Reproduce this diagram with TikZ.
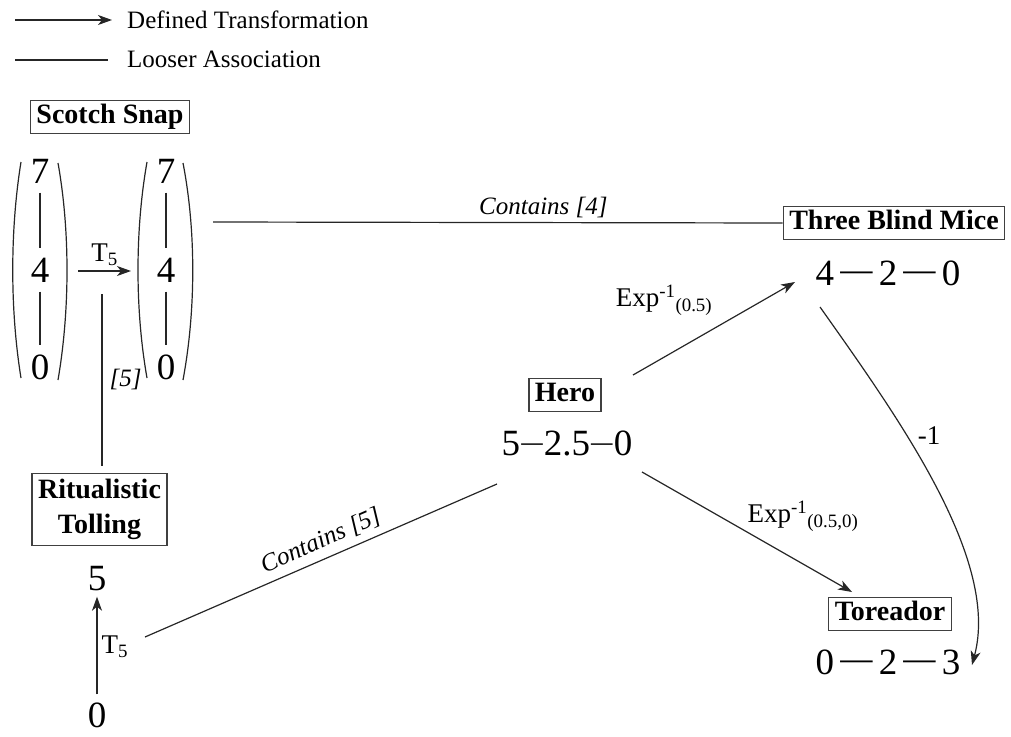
\documentclass[tikz,border=0pt]{standalone}
\usepackage{fontspec}
\usepackage{graphicx}
\setmainfont{Liberation Serif}
\usetikzlibrary{arrows.meta}
\newcommand{\ld}[1]{\raisebox{3.5pt}{\scalebox{#1}[1]{—}}}
\begin{document}
\begin{tikzpicture}[x=1pt,y=-1pt,
  ln/.style={line width=1.2pt, draw=black!85},
  arr/.style={ln, -{Stealth[length=14pt,width=10pt,inset=4pt]}},
  boxlbl/.style={draw=black!75, line width=1.2pt, font=\fontsize{28}{34}\selectfont\bfseries, inner xsep=6pt, inner ysep=4pt, text height=19pt, text depth=6pt},
  num/.style={font=\fontsize{37}{40}\selectfont, inner sep=0pt},
  dig/.style={font=\fontsize{37}{40}\selectfont, text height=25pt, text depth=0pt, inner xsep=0pt, inner ysep=9pt},
  lbl/.style={font=\fontsize{27}{30}\selectfont, inner sep=1pt},
  ilbl/.style={font=\fontsize{25}{28}\selectfont\itshape, inner sep=1pt},
  leg/.style={font=\fontsize{25}{28}\selectfont, anchor=west, inner sep=0pt}
]
\useasboundingbox (0,0) rectangle (1011,736);

% legend
\coordinate (la1) at (15,20);
\coordinate (la2) at (112,20);
\node[leg] (lt1) at (127,20) {Defined Transformation};
\draw[arr] (la1) -- (la2);
\coordinate (lb1) at (15,60);
\coordinate (lb2) at (108,60);
\node[leg] (lt2) at (127,59) {Looser Association};
\draw[ln] (lb1) -- (lb2);

% Scotch Snap
\node[boxlbl] (ss) at (110,117) {Scotch Snap};
\node[dig] (a7) at (40,171) {7};
\node[dig] (a4) at (40,270) {4};
\node[dig] (a0) at (40,367) {0};
\draw[ln] (a7) -- (a4);
\draw[ln] (a4) -- (a0);
\node[dig] (b7) at (166,171) {7};
\node[dig] (b4) at (166,270) {4};
\node[dig] (b0) at (166,367) {0};
\draw[ln] (b7) -- (b4);
\draw[ln] (b4) -- (b0);
\draw[ln] (21,162) .. controls (10,230) and (10,310) .. (21,378);
\draw[ln] (58,163) .. controls (70,230) and (70,310) .. (58,380);
\draw[ln] (147,162) .. controls (135,230) and (135,310) .. (147,378);
\draw[ln] (183,163) .. controls (196,230) and (196,310) .. (183,380);
\coordinate (ta) at (78,271);
\coordinate (tb) at (131,271);
\draw[arr] (ta) -- (tb) node[midway, above=4pt, lbl] (t5) {T\textsubscript{5}};

% Contains [4]
\node[boxlbl] (tbm) at (894,223) {Three Blind Mice};
\coordinate (c4a) at (213,222);
\draw[ln] (c4a) -- (tbm.west) node[pos=0.58, above=3pt, ilbl] (c4) {Contains [4]};
\node[num] (tbmn) at (888,273) {4\,\ld{0.87}\,2\,\ld{0.87}\,0};

% Ritualistic Tolling
\node[draw=black!75, line width=1.2pt, align=center, inner xsep=6pt, inner ysep=6pt, font=\fontsize{28}{35}\selectfont\bfseries] (rt) at (99.5,509.5) {Ritualistic\\Tolling};
\coordinate (v5) at (102,294);
\draw[ln] (v5) -- ([yshift=7pt]rt.north -| v5) node[midway, right=6pt, ilbl] (l5) {[5]};
\node[dig, inner ysep=0pt] (r5) at (97,578) {5};
\node[dig, inner ysep=0pt] (r0) at (97,715) {0};
\draw[arr, shorten <=8pt, shorten >=6pt] (r0) -- (r5) node[midway, right=3pt, lbl] (rt5) {T\textsubscript{5}};

% Hero
\node[boxlbl] (hero) at (565,395) {Hero};
\node[num] (heron) at (567,443) {5\kern0.03em\raisebox{3.5pt}{\scalebox{0.58}[0.8]{—}}\kern0.03em2.5\kern0.03em\raisebox{3.5pt}{\scalebox{0.58}[0.8]{—}}\kern0.03em0};
\coordinate (c5a) at (145,637);
\coordinate (c5b) at (497,484);
\draw[ln] (c5a) -- (c5b) node[pos=0.52, above=6pt, sloped, ilbl] (c5) {Contains [5]};

\coordinate (h1) at (633,375);
\coordinate (h1e) at (795,282);
\draw[arr] (h1) -- (h1e);
\node[lbl] (e1) at (664,300) {Exp\textsuperscript{-1}\textsubscript{(0.5)}};

% Toreador
\node[boxlbl] (tor) at (890,614) {Toreador};
\node[num] (torn) at (888,662) {0\,\ld{0.87}\,2\,\ld{0.87}\,3};
\coordinate (h2) at (642,472);
\coordinate (h2e) at (852,592);
\draw[arr] (h2) -- (h2e);
\node[lbl] (e2) at (803,516) {Exp\textsuperscript{-1}\textsubscript{(0.5,0)}};

% -1 curve
\coordinate (m1) at (820,307);
\coordinate (m2) at (972,665);
\draw[arr] (m1) .. controls (900,420) and (1000,560) .. (m2);
\node[lbl] (neg) at (929,436) {-1};
\end{tikzpicture}
\end{document}
